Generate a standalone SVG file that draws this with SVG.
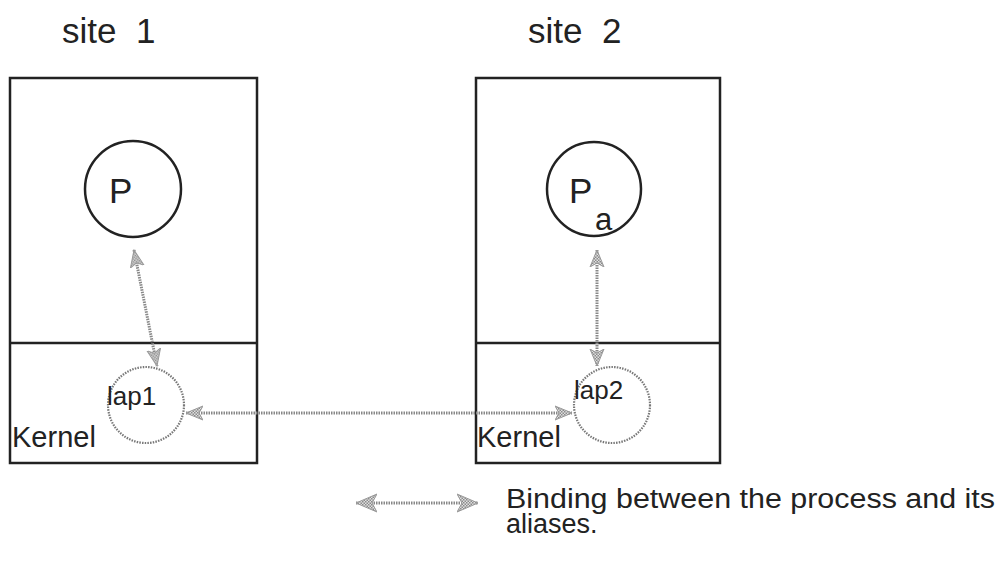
<svg xmlns="http://www.w3.org/2000/svg" width="1002" height="573" viewBox="0 0 1002 573">
  <style>
    .box { fill: none; stroke: #222; stroke-width: 2.5; }
    .proc { fill: #fff; stroke: #222; stroke-width: 2.5; }
    .iap { fill: none; stroke: #777; stroke-width: 2.2; stroke-dasharray: 1.5 1.2; }
    .bind { fill: none; stroke: #888; stroke-width: 3; stroke-dasharray: 1.5 1; }
    .t { font-family: "Liberation Sans", Arial, sans-serif; fill: #222; }
  </style>
  <defs>
    <pattern id="dots" width="3" height="3" patternUnits="userSpaceOnUse">
      <rect width="3" height="3" fill="#e0e0e0"/>
      <rect width="1.5" height="1.5" fill="#8a8a8a"/>
      <rect x="1.5" y="1.5" width="1.5" height="1.5" fill="#8a8a8a"/>
    </pattern>
    <marker id="head" viewBox="0 0 18 16" refX="17" refY="8" markerWidth="18" markerHeight="16" markerUnits="userSpaceOnUse" orient="auto-start-reverse">
      <path d="M0,1 L17,8 L0,15 L4,8 Z" fill="url(#dots)" stroke="#999" stroke-width="1"/>
    </marker>
    <marker id="headL" viewBox="0 0 22 20" refX="21" refY="10" markerWidth="22" markerHeight="20" markerUnits="userSpaceOnUse" orient="auto-start-reverse">
      <path d="M0,1 L21,10 L0,19 L5,10 Z" fill="url(#dots)" stroke="#999" stroke-width="1"/>
    </marker>
  </defs>

  <text class="t" x="62" y="43" font-size="35">site&#160;&#160;1</text>
  <text class="t" x="528" y="43" font-size="35">site&#160;&#160;2</text>

  <g id="site1">
    <rect class="box" x="10" y="78" width="247" height="385"/>
    <line class="box" x1="10" y1="343" x2="257" y2="343"/>
    <text class="t" x="12" y="447" font-size="29">Kernel</text>
  </g>
  <g id="site2">
    <rect class="box" x="476" y="78" width="244" height="385"/>
    <line class="box" x1="476" y1="343" x2="720" y2="343"/>
    <text class="t" x="477" y="447" font-size="29">Kernel</text>
  </g>

  <g id="P">
    <circle class="proc" cx="133" cy="189" r="48"/>
    <text class="t" x="109" y="203" font-size="35">P</text>
  </g>
  <g id="Pa">
    <circle class="proc" cx="594" cy="189" r="47"/>
    <text class="t" x="569" y="203" font-size="35">P</text>
    <text class="t" x="595" y="230" font-size="31">a</text>
  </g>
  <g id="iap1">
    <circle class="iap" cx="146" cy="405" r="38"/>
    <text class="t" x="107" y="405" font-size="26">lap1</text>
  </g>
  <g id="iap2">
    <circle class="iap" cx="612" cy="405" r="38"/>
    <text class="t" x="574" y="399" font-size="26">lap2</text>
  </g>

  <g id="connectors">
    <line class="bind" x1="134" y1="250" x2="157" y2="366" marker-start="url(#head)" marker-end="url(#head)"/>
    <line class="bind" x1="597" y1="250" x2="597" y2="366" marker-start="url(#head)" marker-end="url(#head)"/>
    <line class="bind" x1="186" y1="413" x2="572" y2="413" marker-start="url(#head)" marker-end="url(#head)"/>
    <line class="bind" x1="356" y1="503" x2="478" y2="503" marker-start="url(#headL)" marker-end="url(#headL)"/>
  </g>

  <g id="legend">
    <text class="t" x="506" y="508" font-size="27" textLength="489" lengthAdjust="spacingAndGlyphs">Binding between the process and its</text>
    <text class="t" x="506" y="533" font-size="27">aliases.</text>
  </g>
</svg>
